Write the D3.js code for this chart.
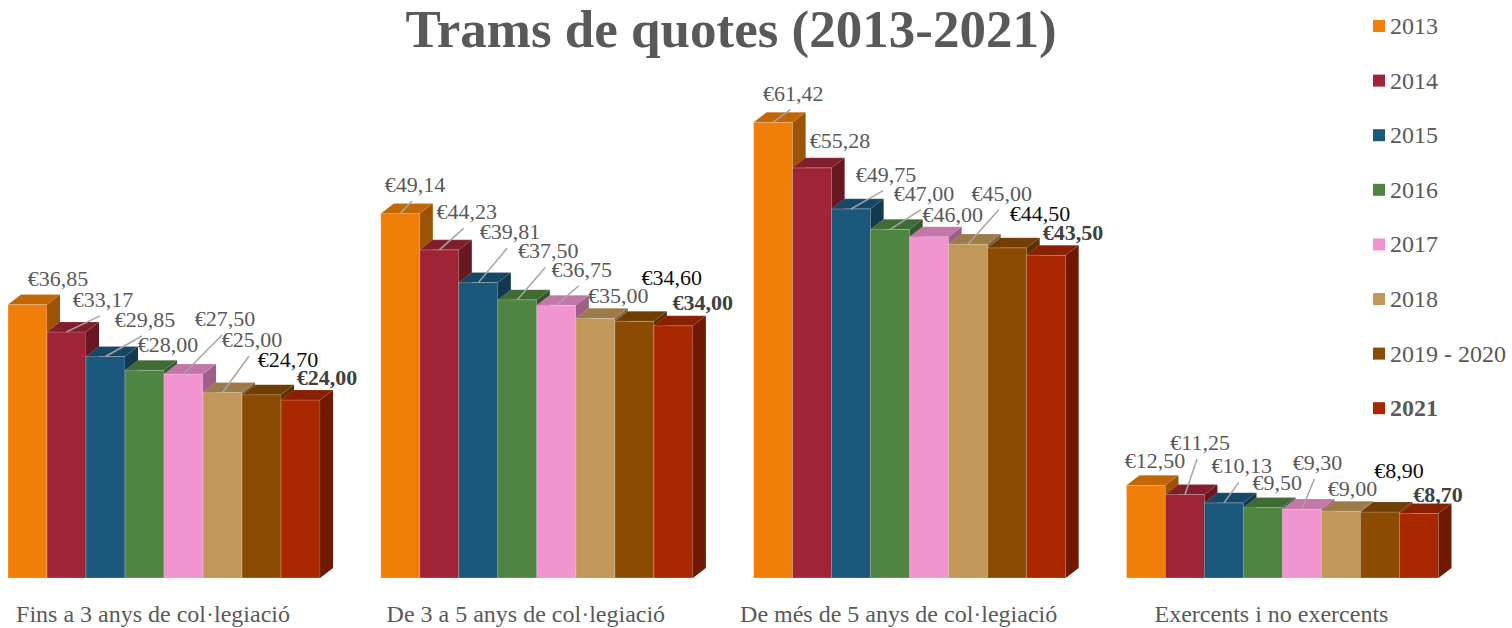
<!DOCTYPE html>
<html>
<head>
<meta charset="utf-8">
<script src="https://cdn.jsdelivr.net/npm/d3@7"></script>
<style>
  body { margin: 0; background: white; }
  text { font-family: "Liberation Serif", "Times New Roman", serif; }
</style>
</head>
<body>
<div id="canvas"></div>
<script>
var w = 1512;
var h = 628;

var categories = ["Fins a 3 anys de col·legiació", "De 3 a 5 anys de col·legiació",
                  "De més de 5 anys de col·legiació", "Exercents i no exercents"];
var series = ["2013", "2014", "2015", "2016", "2017", "2018", "2019 - 2020", "2021"];

var v2013 = [36.85, 49.14, 61.42, 12.50];
var v2014 = [33.17, 44.23, 55.28, 11.25];
var v2015 = [29.85, 39.81, 49.75, 10.13];
var v2016 = [28.00, 37.50, 47.00, 9.50];
var v2017 = [27.50, 36.75, 46.00, 9.30];
var v2018 = [25.00, 35.00, 45.00, 9.00];
var v2019_20 = [24.70, 34.60, 44.50, 8.90];
var v2021 = [24.00, 34.00, 43.50, 8.70];

var values = [v2013, v2014, v2015, v2016, v2017, v2018, v2019_20, v2021];

var colors = ["#F07F09", "#9F2536", "#1B587C", "#4E8542", "#F294D0", "#C19859", "#8C4B03", "#AA2800"];

// label placement relative to bar top (dx, dy, leader line?)
var labelPos = [
  [[30.5, -18.6, 0], [36.5, -25, 1], [39.5, -29.5, 1], [23.5, -18, 0], [41.5, -48, 1], [29.5, -45.5, 1], [26.5, -27.7, 0], [26.5, -15, 0]],
  [[14.7, -21.4, 1], [27.4, -30.5, 1], [31.7, -43.3, 1], [31, -41.5, 1], [25.4, -28.6, 1], [23, -15.6, 0], [37.4, -36.3, 0], [29.4, -15.7, 0]],
  [[20.2, -21.6, 1], [27.9, -19.5, 0], [34.9, -27.2, 1], [33.9, -28.6, 1], [23.6, -15, 0], [33.6, -43.4, 1], [32.9, -27.1, 0], [26.9, -15.2, 0]],
  [[9.1, -17, 0], [15.1, -44.5, 1], [17.8, -29.5, 1], [14.4, -17.5, 0], [15.4, -39, 1], [11.4, -15.2, 0], [19.1, -33.7, 0], [19.1, -11.7, 0]]
];

var depthX = 13, depthY = 10;
var baseY = 578;

var x0 = d3.scaleBand()
           .domain(categories)
           .range([8, 1438.5])
           .paddingInner(0.163)
           .paddingOuter(0);

var x1 = d3.scaleBand()
           .domain(series)
           .range([0, x0.bandwidth()]);

var yScale = d3.scaleLinear()
               .domain([0, 70])
               .range([baseY, baseY - 70 * 7.42]);

var fmt = d3.format(".2f");
var euro = v => "€" + fmt(v).replace(".", ",");

var canvas = d3.select("#canvas")
               .append("svg")
               .attr("width", w)
               .attr("height", h)
               .style("background-color", "white");

// title
canvas.append("text")
      .attr("x", 731)
      .attr("y", 47)
      .attr("text-anchor", "middle")
      .style("font-size", "53px")
      .style("font-weight", "bold")
      .style("fill", "#595959")
      .text("Trams de quotes (2013-2021)");

// bars, drawn left to right so later bars hide earlier side faces
var bars = [];
categories.forEach((c, ci) => {
  series.forEach((s, si) => {
    bars.push({cat: c, ci: ci, ser: s, si: si, value: values[si][ci]});
  });
});

var barG = canvas.append("g");

bars.forEach(d => {
  var left = x0(d.cat) + x1(d.ser);
  var right = left + x1.bandwidth();
  var top = yScale(d.value);
  var base = yScale(0);
  var col = d3.color(colors[d.si]);
  var g = barG.append("g");

  g.append("rect")
   .attr("x", left)
   .attr("y", top)
   .attr("width", x1.bandwidth())
   .attr("height", base - top)
   .attr("fill", col)
   .attr("stroke", "rgba(255,255,255,0.35)")
   .attr("stroke-width", 0.7);

  g.append("path")
   .attr("d", `M${left},${top} L${left + depthX},${top - depthY} L${right + depthX},${top - depthY} L${right},${top} Z`)
   .attr("fill", col.darker(0.6))
   .attr("stroke", "rgba(255,255,255,0.25)")
   .attr("stroke-width", 0.6);

  g.append("path")
   .attr("d", `M${right},${top} L${right + depthX},${top - depthY} L${right + depthX},${base - depthY} L${right},${base} Z`)
   .attr("fill", col.darker(1.2));
});

// value labels
var labelG = canvas.append("g");
bars.forEach(d => {
  var cx = x0(d.cat) + x1(d.ser) + x1.bandwidth() / 2;
  var top = yScale(d.value);
  var p = labelPos[d.ci][d.si];
  var lx = cx + p[0];
  var ly = top + p[1];

  if (p[2]) {
    labelG.append("line")
          .attr("x1", cx)
          .attr("y1", top)
          .attr("x2", lx - 3)
          .attr("y2", ly + 9)
          .attr("stroke", "#A6A6A6")
          .attr("stroke-width", 1.5);
  }

  labelG.append("text")
        .attr("x", lx)
        .attr("y", ly)
        .attr("text-anchor", "middle")
        .style("font-size", "22px")
        .style("font-weight", d.si == 7 ? "bold" : "normal")
        .style("fill", d.si == 6 ? "#0d0d0d" : (d.si == 7 ? "#404040" : "#595959"))
        .text(euro(d.value));
});

// category labels
canvas.append("g")
      .selectAll("text")
      .data(categories)
      .join("text")
      .attr("x", d => x0(d) + x0.bandwidth() / 2 - 11)
      .attr("y", 622)
      .attr("text-anchor", "middle")
      .style("font-size", "24px")
      .style("fill", "#595959")
      .text(d => d);

// legend
var legend = canvas.append("g")
                   .attr("class", "legend")
                   .attr("transform", "translate(1373, 26)");

var items = legend.selectAll("g")
                  .data(series)
                  .join("g")
                  .attr("transform", (d, i) => `translate(0, ${i * 54.6})`);

items.append("rect")
     .attr("x", 0)
     .attr("y", -6)
     .attr("width", 12)
     .attr("height", 12)
     .attr("fill", (d, i) => colors[i]);

items.append("text")
     .attr("x", 17)
     .attr("y", 8)
     .style("font-size", "24px")
     .style("font-weight", (d, i) => i == 7 ? "bold" : "normal")
     .style("fill", "#595959")
     .text(d => d);
</script>
</body>
</html>
